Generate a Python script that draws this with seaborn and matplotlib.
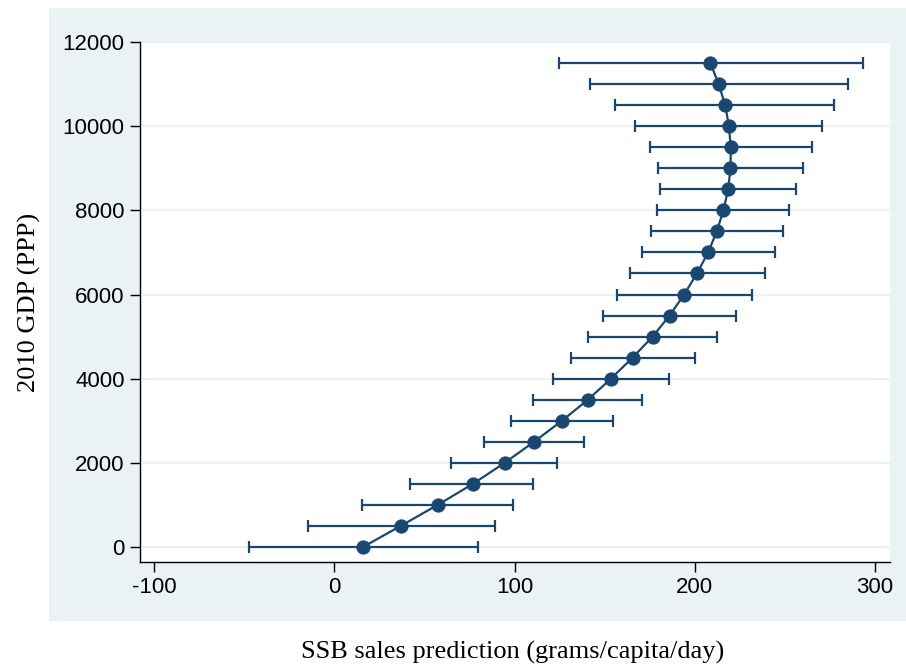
#!/usr/bin/env python3

# SSB sales prediction vs 2010 GDP, Stata-ish look.

import matplotlib
matplotlib.use("Agg")
import matplotlib.pyplot as plt
from matplotlib.patches import Rectangle
import numpy as np
import pandas as pd
import seaborn as sns

GDP = [0, 500, 1000, 1500, 2000, 2500, 3000, 3500, 4000, 4500, 5000, 5500,
       6000, 6500, 7000, 7500, 8000, 8500, 9000, 9500, 10000, 10500, 11000, 11500]
PRED = [15.9, 36.8, 57.3, 76.9, 94.5, 110.8, 126.3, 140.7, 153.5, 165.5, 176.6, 186.0,
        194.1, 201.2, 207.4, 212.2, 215.9, 218.5, 219.8, 220.0, 218.9, 216.9, 213.2, 208.7]
LO = [-47.5, -14.6, 15.5, 42.0, 64.7, 83.2, 98.2, 110.5, 121.5, 131.3, 140.5, 148.8,
      157.0, 164.1, 170.5, 175.8, 179.3, 180.8, 179.5, 175.1, 167.1, 156.0, 141.6, 124.4]
HI = [79.5, 89.1, 99.3, 110.5, 123.7, 138.5, 154.4, 170.7, 185.8, 200.1, 212.3, 223.0,
      231.7, 239.0, 244.6, 248.9, 252.5, 256.1, 260.1, 264.9, 270.7, 277.3, 285.1, 293.2]

XTICKS = [-100, 0, 100, 200, 300]
YTICKS = [0, 2000, 4000, 6000, 8000, 10000, 12000]

NAVY = "#1A476F"
PANEL = "#EAF2F3"

df = pd.DataFrame({"gdp": GDP, "pred": PRED, "lo": LO, "hi": HI})

sns.set_style("white")
plt.rcParams["font.family"] = ["Liberation Sans", "DejaVu Sans"]
plt.rcParams["axes.unicode_minus"] = False
plt.rcParams["text.color"] = "black"
plt.rcParams["axes.labelcolor"] = "black"
plt.rcParams["xtick.color"] = "black"
plt.rcParams["ytick.color"] = "black"

W, H = 906, 668
fig = plt.figure(figsize=(W / 100, H / 100), dpi=100, facecolor="white")

# light bluish panel behind the plot region
fig.patches.append(Rectangle((49 / W, 1 - 621 / H), 1 - 49 / W, (621 - 8) / H,
                             transform=fig.transFigure, facecolor=PANEL,
                             edgecolor="none", zorder=-10))

ax = fig.add_axes([140 / W, 1 - 562 / H, 750 / W, (562 - 42) / H])
ax.set_facecolor("white")

for y in YTICKS:
    ax.axhline(y, color=PANEL, lw=1.6, zorder=0)

ax.errorbar(df["pred"], df["gdp"],
            xerr=[df["pred"] - df["lo"], df["hi"] - df["pred"]],
            fmt="none", ecolor=NAVY, elinewidth=1.6, capsize=4, capthick=1.6,
            zorder=2)
sns.lineplot(data=df, x="pred", y="gdp", sort=False, color=NAVY, lw=1.6,
             marker="o", markersize=9.5, markeredgecolor=NAVY, ax=ax, zorder=3)

ax.set_xlim(-107.8, 308.3)
ax.set_ylim(-356, 12000)
ax.set_xticks(XTICKS)
ax.set_yticks(YTICKS)
ax.tick_params(axis="both", which="major", direction="out", length=7, width=1,
               color="black", labelcolor="black", labelsize=16, pad=4,
               left=True, bottom=True)

for side in ["top", "right"]:
    ax.spines[side].set_visible(False)
for side in ["left", "bottom"]:
    ax.spines[side].set_color("black")
    ax.spines[side].set_linewidth(1)

ax.set_xlabel("SSB sales prediction (grams/capita/day)",
              family=["Liberation Serif", "DejaVu Serif"], fontsize=19,
              color="black")
ax.set_ylabel("2010 GDP (PPP)", family=["Liberation Serif", "DejaVu Serif"],
              fontsize=19, color="black")
ax.xaxis.label.set_va("center")
ax.yaxis.label.set_va("center")
ax.xaxis.set_label_coords((513 - 140) / 750, (562 - 652) / 520)
ax.yaxis.set_label_coords((29 - 140) / 750, (562 - 302) / 520)

fig.savefig("out.png", dpi=100, facecolor="white")
